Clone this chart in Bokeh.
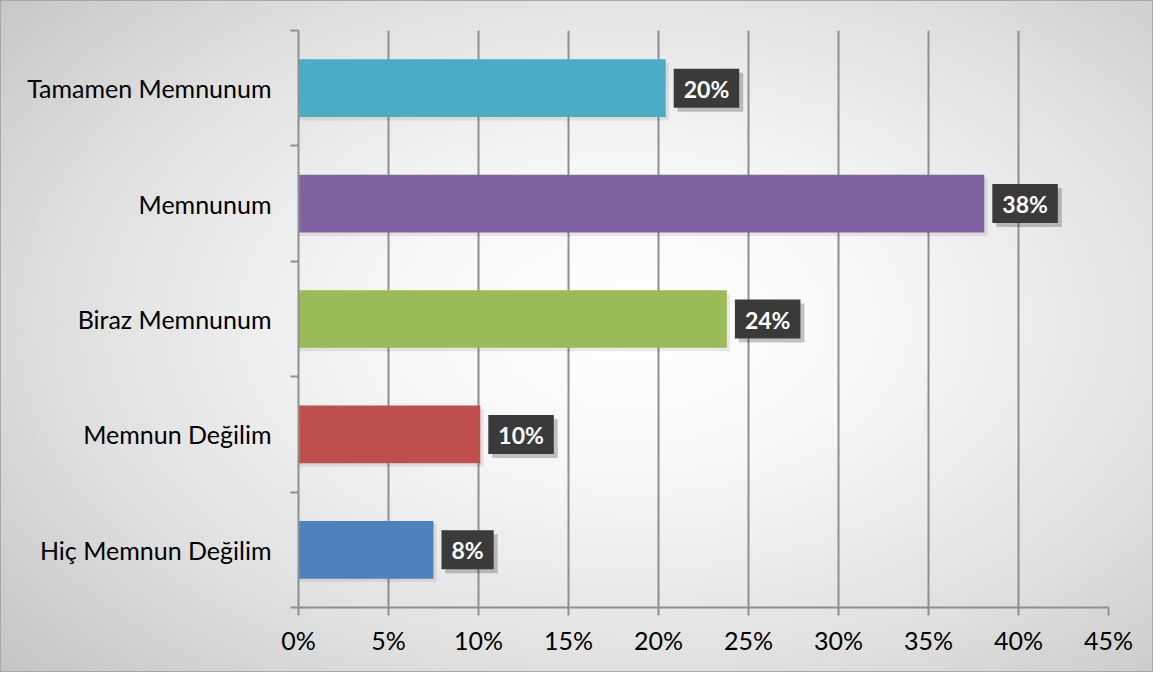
from bokeh.plotting import figure
from bokeh.models import ColumnDataSource, FixedTicker, NumeralTickFormatter, Range1d
from bokeh.core.properties import value
from bokeh.embed import file_html
from bokeh.resources import INLINE

categories = ["Hiç Memnun Değilim", "Memnun Değilim", "Biraz Memnunum", "Memnunum", "Tamamen Memnunum"]
values = [0.075, 0.101, 0.238, 0.381, 0.204]
labels = ["8%", "10%", "24%", "38%", "20%"]
colors = ["#4F81BD", "#C0504D", "#9BBB59", "#8064A2", "#4BACC6"]
x_ticks = [0, 0.05, 0.10, 0.15, 0.20, 0.25, 0.30, 0.35, 0.40, 0.45]

pos = [i + 0.5 for i in range(len(categories))]
src = ColumnDataSource(dict(y=pos, v=values, lab=labels, c=colors,
                            ys=[p_ - 0.03 for p_ in pos], vs=[v + 0.0018 for v in values]))

p = figure(frame_width=810, frame_height=577, output_backend="svg", toolbar_location=None,
           x_range=Range1d(0, 0.45), y_range=Range1d(0, 5),
           min_border_left=298, min_border_right=45, min_border_top=30, min_border_bottom=65)
p.border_fill_color = None
p.background_fill_color = None
p.outline_line_color = None
p.styles = {"background": "radial-gradient(ellipse 75% 80% at 55% 48%, #ffffff 0%, #f6f6f6 30%, #e0e0e0 65%, #c2c2c2 100%)",
            "box-shadow": "inset 0 0 0 1px #a8a8a8"}

# grid
p.ygrid.visible = False
p.xgrid.ticker = FixedTicker(ticks=x_ticks)
p.xgrid.grid_line_color = "#8f8f8f"
p.xgrid.grid_line_width = 2

# bar shadows and bars
p.hbar(y="ys", right="vs", left=0, height=0.5, source=src, fill_color="#000000", fill_alpha=0.08, line_color=None)
p.hbar(y="y", right="v", left=0, height=0.5, source=src, fill_color="c", line_color=None)

# label shadows and labels
font = value("Lato")
pad = dict(left=10, right=10, top=6, bottom=5)
p.text(x="v", y="y", text="lab", source=src, x_offset=12, y_offset=4, text_align="left",
       text_baseline="middle", text_font=font, text_font_size="23px", text_font_style="bold",
       text_alpha=0, background_fill_color="#000000", background_fill_alpha=0.22,
       padding=pad)
p.text(x="v", y="y", text="lab", source=src, x_offset=8, text_align="left",
       text_baseline="middle", text_font=font, text_font_size="23px", text_font_style="bold",
       text_color="white", background_fill_color="#3a3a3a",
       padding=pad)

# x axis
xa = p.xaxis[0]
xa.ticker = FixedTicker(ticks=x_ticks)
xa.formatter = NumeralTickFormatter(format="0%")
xa.axis_line_color = "#8f8f8f"
xa.axis_line_width = 2
xa.major_tick_line_color = "#8f8f8f"
xa.major_tick_line_width = 2
xa.major_tick_out = 8
xa.major_tick_in = 0
xa.minor_tick_line_color = None
xa.major_label_standoff = 9
xa.major_label_text_font = "Lato"
xa.major_label_text_font_size = "25px"
xa.major_label_text_color = "#000000"

# y axis: labels at centers, ticks at boundaries
ya = p.yaxis[0]
ya.ticker = FixedTicker(ticks=pos, minor_ticks=[0, 1, 2, 3, 4, 5])
ya.major_label_overrides = {pos[i]: categories[i] for i in range(len(categories))}
ya.axis_line_color = "#8f8f8f"
ya.axis_line_width = 2
ya.major_tick_line_color = None
ya.major_tick_out = 0
ya.major_tick_in = 0
ya.minor_tick_line_color = "#8f8f8f"
ya.minor_tick_line_width = 2
ya.minor_tick_out = 8
ya.minor_tick_in = 0
ya.major_label_standoff = 19
ya.major_label_text_font = "Lato"
ya.major_label_text_font_size = "25px"
ya.major_label_text_color = "#000000"

open("out.html", "w").write(file_html(p, INLINE))
